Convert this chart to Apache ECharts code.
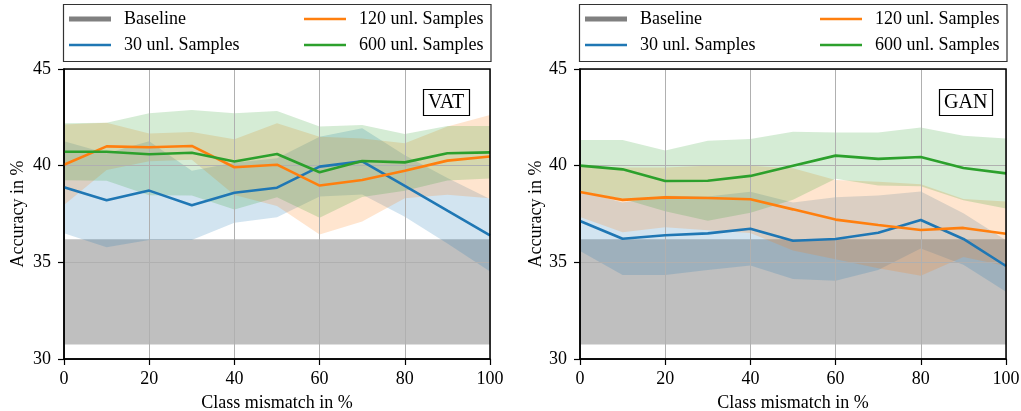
<!DOCTYPE html>
<html>
<head>
<meta charset="utf-8">
<title>Accuracy vs class mismatch</title>
<script src="https://cdn.jsdelivr.net/npm/echarts@6/dist/echarts.min.js"></script>
<style>
  html, body { margin: 0; padding: 0; background: #fff; }
  #chart { width: 1021px; height: 411px; }
</style>
</head>
<body>
<div id="chart"></div>
<script>
// class mismatch in % (x positions of every point)
const mismatch = [0, 10, 20, 30, 40, 50, 60, 70, 80, 90, 100];
const methodNames = ["30 unl. Samples", "120 unl. Samples", "600 unl. Samples"];
const methodColors = ["#1f77b4", "#ff7f0e", "#2ca02c"];

// baseline band, same in both panels
const baselineX = [0, 100];
const baselineLow = [30.75, 30.75];
const baselineHigh = [36.2, 36.2];

// VAT: mean accuracy and spread (half width of the shaded band)
const vat30 = [38.88, 38.21, 38.71, 37.95, 38.6, 38.86, 39.95, 40.22, 38.95, 37.67, 36.4];
const vat30Std = [2.38, 2.43, 2.55, 1.79, 1.55, 1.53, 1.55, 1.71, 1.59, 1.69, 1.88];
const vat120 = [40.05, 41.0, 40.95, 41.02, 39.92, 40.05, 38.97, 39.26, 39.74, 40.26, 40.47];
const vat120Std = [2.08, 1.22, 0.72, 0.72, 1.44, 2.14, 2.53, 2.15, 1.42, 1.76, 2.15];
const vat600 = [40.72, 40.72, 40.59, 40.67, 40.22, 40.6, 39.66, 40.24, 40.17, 40.64, 40.69];
const vat600Std = [1.47, 1.5, 2.12, 2.21, 2.49, 2.23, 2.36, 1.86, 1.47, 1.41, 1.36];

// GAN
const gan30 = [37.14, 36.22, 36.4, 36.5, 36.74, 36.12, 36.21, 36.53, 37.19, 36.21, 34.81];
const gan30Std = [1.55, 1.87, 2.05, 1.9, 1.91, 1.98, 2.16, 1.93, 1.47, 1.33, 1.33];
const gan120 = [38.64, 38.23, 38.36, 38.33, 38.26, 37.74, 37.21, 36.93, 36.67, 36.78, 36.48];
const gan120Std = [1.3, 1.67, 1.54, 1.67, 1.74, 2.13, 2.05, 2.24, 2.37, 1.5, 1.67];
const gan600 = [40.0, 39.81, 39.21, 39.22, 39.47, 40.0, 40.52, 40.35, 40.45, 39.88, 39.6];
const gan600Std = [1.33, 1.52, 1.57, 2.07, 1.91, 1.76, 1.2, 1.37, 1.52, 1.67, 1.81];

const yTicks = { min: 30, max: 45, interval: 5 };
const xTicks = { min: 0, max: 100, interval: 20 };

const panels = [
  { name: "VAT", means: [vat30, vat120, vat600], spreads: [vat30Std, vat120Std, vat600Std] },
  { name: "GAN", means: [gan30, gan120, gan600], spreads: [gan30Std, gan120Std, gan600Std] },
];

const font = "Liberation Serif";
const gridLefts = [64, 580];
const gridTop = 69;
const gridW = 426;
const gridH = 290;

// shaded band between lo and hi, drawn as one polygon through the axes
function bandSeries(name, i, xs, lo, hi, color, alpha) {
  return {
    type: "custom", name: name, xAxisIndex: i, yAxisIndex: i, silent: true, z: 1,
    itemStyle: { color: color },
    data: xs.map((x, k) => [x, lo[k], hi[k]]),
    encode: { x: 0, y: [1, 2] },
    renderItem: function (params, api) {
      if (params.dataIndex !== 0) return null;
      const top = xs.map((x, k) => api.coord([x, hi[k]]));
      const bottom = xs.map((x, k) => api.coord([x, lo[k]])).reverse();
      return {
        type: "polygon",
        shape: { points: top.concat(bottom) },
        style: { fill: echarts.color.modifyAlpha(color, alpha), stroke: null },
      };
    },
  };
}

const chart = echarts.init(document.getElementById("chart"), null, { renderer: "canvas" });

var grids = [], xAxes = [], yAxes = [], series = [], legends = [], titles = [], graphics = [];

panels.forEach((p, i) => {
  const gx = gridLefts[i];
  grids.push({
    left: gx, top: gridTop, width: gridW, height: gridH,
    outerBoundsMode: "none", containLabel: false,
    show: true, backgroundColor: "transparent",
    borderColor: "#000", borderWidth: 1.5, z: 4,
  });
  xAxes.push({
    gridIndex: i, type: "value", min: xTicks.min, max: xTicks.max, interval: xTicks.interval,
    z: 2,
    axisLine: { show: true, onZero: false, lineStyle: { color: "#000", width: 1.5 } },
    axisTick: { show: true, length: 6, lineStyle: { color: "#000", width: 1.2 } },
    axisLabel: { color: "#000", fontFamily: font, fontSize: 18, margin: 11 },
    splitLine: { show: true, lineStyle: { color: "#b0b0b0", width: 1 } },
    name: "Class mismatch in %", nameLocation: "middle", nameGap: 35,
    nameTextStyle: { color: "#000", fontFamily: font, fontSize: 18 },
  });
  yAxes.push({
    gridIndex: i, type: "value", min: yTicks.min, max: yTicks.max, interval: yTicks.interval,
    z: 2,
    axisLine: { show: true, onZero: false, lineStyle: { color: "#000", width: 1.5 } },
    axisTick: { show: true, length: 6, lineStyle: { color: "#000", width: 1.2 } },
    axisLabel: { color: "#000", fontFamily: font, fontSize: 18, margin: 13 },
    splitLine: { show: true, lineStyle: { color: "#b0b0b0", width: 1 } },
    name: "Accuracy in %", nameLocation: "middle", nameGap: i === 0 ? 37 : 34,
    nameTextStyle: { color: "#000", fontFamily: font, fontSize: 18 },
  });

  // baseline band
  series.push(bandSeries("Baseline", i, baselineX, baselineLow, baselineHigh, "#808080", 0.5));

  // spread bands
  p.means.forEach((m, j) => {
    const sd = p.spreads[j];
    series.push(bandSeries("band" + i + j, i, mismatch,
      m.map((v, k) => v - sd[k]), m.map((v, k) => v + sd[k]), methodColors[j], 0.2));
  });

  // mean lines
  p.means.forEach((m, j) => {
    series.push({
      type: "line", name: methodNames[j], xAxisIndex: i, yAxisIndex: i,
      data: mismatch.map((x, k) => [x, m[k]]), symbol: "none", silent: true,
      itemStyle: { color: methodColors[j] },
      lineStyle: { color: methodColors[j], width: 2.6 }, z: 3,
    });
  });

  // legend: two columns inside a framed box above the plot
  const legendText = { color: "#000", fontFamily: font, fontSize: 18, padding: [0, 0, 0, 8] };
  legends.push({
    data: [{ name: "Baseline", itemStyle: { color: "#808080" } }],
    left: gx + 5, top: 10, padding: 0, icon: "rect",
    itemWidth: 42, itemHeight: 5, selectedMode: false, textStyle: legendText,
  });
  legends.push({
    data: [methodNames[0]], left: gx + 5, top: 36, padding: 0, icon: "rect",
    itemWidth: 42, itemHeight: 2.5, selectedMode: false, textStyle: legendText,
  });
  legends.push({
    data: [methodNames[1], methodNames[2]], orient: "vertical", left: gx + 240, top: 10,
    padding: 0, itemGap: 8, icon: "rect",
    itemWidth: 42, itemHeight: 2.5, selectedMode: false, textStyle: legendText,
  });
  graphics.push({
    type: "rect", silent: true,
    shape: { x: gx - 0.5, y: 4.5, width: gridW + 1.5, height: 57 },
    style: { fill: "none", stroke: "#333", lineWidth: 1.2 },
  });

  // method label box in the corner
  titles.push({
    text: p.name, left: gx + 359, top: 89, padding: [4, 5, 3, 5],
    borderColor: "#000", borderWidth: 1.2,
    textStyle: { color: "#000", fontFamily: font, fontSize: 20, fontWeight: "normal" },
  });
});

var option = {
  animation: false,
  backgroundColor: "#fff",
  title: titles,
  legend: legends,
  grid: grids,
  xAxis: xAxes,
  yAxis: yAxes,
  series: series,
  graphic: graphics,
};
chart.setOption(option);
</script>
</body>
</html>
